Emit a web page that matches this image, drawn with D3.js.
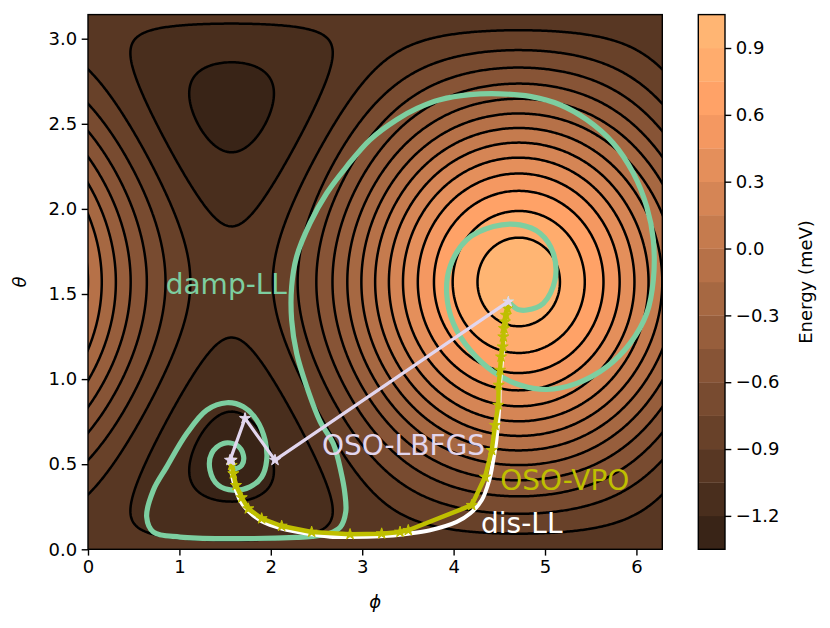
<!DOCTYPE html>
<html><head><meta charset="utf-8">
<script src="https://cdn.jsdelivr.net/npm/d3@7"></script>
<style>
body{margin:0;background:#fff}
text{font-family:"DejaVu Sans",sans-serif}
</style>
</head><body>
<svg id="c" width="830" height="628"></svg>
<script>
// ---------------- data ----------------
const contourLevels = [-1.35,-1.2,-1.05,-0.9,-0.75,-0.6,-0.45,-0.3,-0.15,0.0,0.15,0.3,0.45,0.6,0.75,0.9,1.05];
const bandColors = ["#392417","#492e1d","#583723","#684129","#784b30","#875436","#975e3c","#a66842",
                    "#b67148","#c57b4e","#d58555","#e48f5b","#f49861","#ffa267","#ffac6d","#ffb573"];
const cbTicks = [-1.2,-0.9,-0.6,-0.3,0.0,0.3,0.6,0.9];
const xTicks = [0,1,2,3,4,5,6];
const yTicks = [0.0,0.5,1.0,1.5,2.0,2.5,3.0];
const anisotropyK = 1.0;   // meV
const fieldB = 1.0;        // meV

const dampLL_phi   = [4.598,4.70,4.80,4.982,5.109,5.091,4.945,4.726,4.435,4.143,3.961,3.924,3.997,4.18,4.435,4.726,5.018,5.347,5.675,5.930,6.113,6.185,6.185,6.113,5.966,5.747,5.456,5.164,4.836,4.508,4.179,3.851,3.60,3.377,3.085,2.83,2.611,2.429,2.283,2.228,2.228,2.283,2.393,2.54,2.684,2.77,2.81,2.82,2.76,2.648,2.45,2.283,1.554,1.007,0.715,0.642,0.715,0.861,1.08,1.299,1.518,1.70,1.846,1.937,1.955,1.90,1.772,1.59,1.426,1.335,1.353,1.48,1.627,1.70,1.682,1.608,1.571];
const dampLL_theta = [1.455,1.41,1.406,1.445,1.582,1.739,1.857,1.906,1.896,1.818,1.661,1.504,1.328,1.171,1.043,0.965,0.939,0.975,1.072,1.21,1.386,1.582,1.818,2.013,2.21,2.386,2.524,2.612,2.661,2.676,2.671,2.641,2.59,2.524,2.406,2.249,2.092,1.916,1.72,1.543,1.347,1.151,0.955,0.75,0.62,0.45,0.33,0.22,0.13,0.095,0.076,0.07,0.063,0.072,0.102,0.19,0.347,0.484,0.68,0.818,0.861,0.837,0.759,0.641,0.524,0.425,0.367,0.347,0.376,0.465,0.563,0.622,0.612,0.553,0.494,0.475,0.51];

const disLL_phi   = [4.598,4.57,4.545,4.52,4.505,4.50,4.47,4.434,4.39,4.307,4.18,4.034,3.742,3.504,3.195,2.867,2.648,2.447,2.119,1.90,1.754,1.663,1.608,1.572,1.571];
const disLL_theta = [1.455,1.35,1.20,1.05,0.95,0.84,0.65,0.524,0.406,0.288,0.21,0.161,0.112,0.092,0.076,0.072,0.074,0.088,0.122,0.165,0.225,0.288,0.367,0.445,0.524];

const vpo_phi   = [4.598,4.588,4.573,4.562,4.551,4.544,4.537,4.519,4.508,4.493,4.489,4.453,4.417,4.344,4.198,3.504,3.414,3.213,2.867,2.447,2.119,1.900,1.754,1.682,1.619,1.590,1.572,1.571];
const vpo_theta = [1.455,1.416,1.376,1.337,1.298,1.249,1.190,1.131,1.053,0.965,0.847,0.729,0.582,0.425,0.259,0.112,0.102,0.092,0.088,0.102,0.137,0.181,0.239,0.304,0.376,0.445,0.494,0.524];

const lbfgs_phi   = [4.598,2.046,1.718,1.554,1.571];
const lbfgs_theta = [1.455,0.524,0.769,0.524,0.524];

const labelNames = ["damp-LL","OSO-LBFGS","OSO-VPO","dis-LL"];
const labelPhi   = [0.85,2.56,4.51,4.30];
const labelTheta = [1.50,0.553,0.347,0.094];
const seriesColors = {"damp-LL":"#7dcea0","OSO-LBFGS":"#e2d6ee","OSO-VPO":"#bfbf00","dis-LL":"#ffffff"};

// ---------------- layout ----------------
const svg = d3.select("#c");
const L=88, R=662.3, T=14.6, Bm=549.3;
const x = d3.scaleLinear().domain([0,2*Math.PI]).range([L,R]);
const y = d3.scaleLinear().domain([0,Math.PI]).range([Bm,T]);

svg.append("defs").append("clipPath").attr("id","clip")
  .append("rect").attr("x",L).attr("y",T).attr("width",R-L).attr("height",Bm-T);
const g = svg.append("g").attr("clip-path","url(#clip)");

// energy surface grid (extended beyond the domain so line contours don't trace the border)
const energy = (th,ph) => -anisotropyK*Math.cos(th)**2 - fieldB*Math.sin(th)*Math.sin(ph);
const nx=420, ny=380, ph0=-0.3, ph1=2*Math.PI+0.3, th0=-0.3, th1=Math.PI+0.3;
const dph=(ph1-ph0)/nx, dth=(th1-th0)/ny;
const vals = new Array(nx*ny);
for(let j=0;j<ny;j++) for(let i=0;i<nx;i++) vals[j*nx+i]=energy(th0+(j+0.5)*dth, ph0+(i+0.5)*dph);
const cs = d3.contours().size([nx,ny]).thresholds(contourLevels)(vals);
const proj = d3.geoTransform({point(gx,gy){ this.stream.point(x(ph0+gx*dph), y(th0+gy*dth)); }});
const path = d3.geoPath(proj);

g.append("rect").attr("x",L).attr("y",T).attr("width",R-L).attr("height",Bm-T).attr("fill",bandColors[0]);
g.append("g").selectAll("path").data(cs.slice(0,16)).join("path")
  .attr("d",path).attr("fill",(d,i)=>bandColors[i]).attr("stroke",(d,i)=>bandColors[i]).attr("stroke-width",0.4);
g.append("g").selectAll("path").data(cs.slice(1,16)).join("path")
  .attr("d",path).attr("fill","none").attr("stroke","#000").attr("stroke-width",2.5).attr("stroke-linejoin","round");

// trajectories
const zip = (a,b)=>a.map((v,i)=>[v,b[i]]);
const smooth = d3.line().x(d=>x(d[0])).y(d=>y(d[1])).curve(d3.curveCatmullRom.alpha(0.5));
const straight = d3.line().x(d=>x(d[0])).y(d=>y(d[1]));
const star = d3.symbol().type(d3.symbolStar).size(38);

g.append("path").attr("d",smooth(zip(dampLL_phi,dampLL_theta))).attr("fill","none")
  .attr("stroke",seriesColors["damp-LL"]).attr("stroke-width",5.2).attr("stroke-linejoin","round").attr("stroke-linecap","round");
g.append("path").attr("d",smooth(zip(disLL_phi,disLL_theta))).attr("fill","none")
  .attr("stroke",seriesColors["dis-LL"]).attr("stroke-width",4).attr("stroke-linecap","round");

const vpo = zip(vpo_phi,vpo_theta);
g.append("path").attr("d",straight(vpo)).attr("fill","none")
  .attr("stroke",seriesColors["OSO-VPO"]).attr("stroke-width",4.5).attr("stroke-linejoin","round");
g.append("g").selectAll("path").data(vpo).join("path").attr("d",star)
  .attr("transform",d=>`translate(${x(d[0])},${y(d[1])})`)
  .attr("fill",seriesColors["OSO-VPO"]).attr("stroke",seriesColors["OSO-VPO"]).attr("stroke-width",1);

const lb = zip(lbfgs_phi,lbfgs_theta);
g.append("path").attr("d",straight(lb)).attr("fill","none")
  .attr("stroke",seriesColors["OSO-LBFGS"]).attr("stroke-width",3.2).attr("stroke-linejoin","round");
g.append("g").selectAll("path").data(lb).join("path").attr("d",star)
  .attr("transform",d=>`translate(${x(d[0])},${y(d[1])})`)
  .attr("fill",seriesColors["OSO-LBFGS"]).attr("stroke",seriesColors["OSO-LBFGS"]).attr("stroke-width",1);

// labels
svg.append("g").selectAll("text").data(labelNames).join("text")
  .attr("x",(d,i)=>x(labelPhi[i])).attr("y",(d,i)=>y(labelTheta[i]))
  .attr("font-size",28).attr("fill",d=>seriesColors[d]).text(d=>d);

// frame
svg.append("rect").attr("x",L).attr("y",T).attr("width",R-L).attr("height",Bm-T)
  .attr("fill","none").attr("stroke","#000").attr("stroke-width",1.4);

// axes
function styleAxis(sel){
  sel.select(".domain").remove();
  sel.selectAll(".tick line").attr("stroke","#000").attr("stroke-width",1.4);
  sel.selectAll(".tick text").attr("font-size",18).attr("font-family","DejaVu Sans").attr("fill","#000");
}
svg.append("g").attr("transform",`translate(0,${Bm})`)
  .call(d3.axisBottom(x).tickValues(xTicks).tickFormat(d3.format("d")).tickSize(6.3).tickPadding(4.5)).call(styleAxis);
svg.append("g").attr("transform",`translate(${L},0)`)
  .call(d3.axisLeft(y).tickValues(yTicks).tickFormat(d3.format(".1f")).tickSize(6.3).tickPadding(4.5)).call(styleAxis);

svg.append("text").attr("x",(L+R)/2).attr("y",608).attr("text-anchor","middle")
  .attr("font-size",18).attr("font-style","italic").text("ϕ");
svg.append("text").attr("transform",`translate(26,${(T+Bm)/2}) rotate(-90)`).attr("text-anchor","middle")
  .attr("font-size",18).attr("font-style","italic").text("θ");

// colorbar
const cbL=698.3, cbW=26.7;
const cy = d3.scaleLinear().domain([contourLevels[0],contourLevels[contourLevels.length-1]]).range([Bm,T]);
svg.append("g").selectAll("rect").data(bandColors).join("rect")
  .attr("x",cbL).attr("width",cbW)
  .attr("y",(d,i)=>cy(contourLevels[i+1])).attr("height",(d,i)=>cy(contourLevels[i])-cy(contourLevels[i+1])+0.3)
  .attr("fill",d=>d);
svg.append("rect").attr("x",cbL).attr("y",T).attr("width",cbW).attr("height",Bm-T)
  .attr("fill","none").attr("stroke","#000").attr("stroke-width",1.4);
svg.append("g").attr("transform",`translate(${cbL+cbW},0)`)
  .call(d3.axisRight(cy).tickValues(cbTicks).tickFormat(d3.format(".1f")).tickSize(6.3).tickPadding(4.5)).call(styleAxis);
svg.append("text").attr("transform",`translate(812,${(T+Bm)/2}) rotate(-90)`).attr("text-anchor","middle")
  .attr("font-size",18).text("Energy (meV)");
</script>
</body></html>
